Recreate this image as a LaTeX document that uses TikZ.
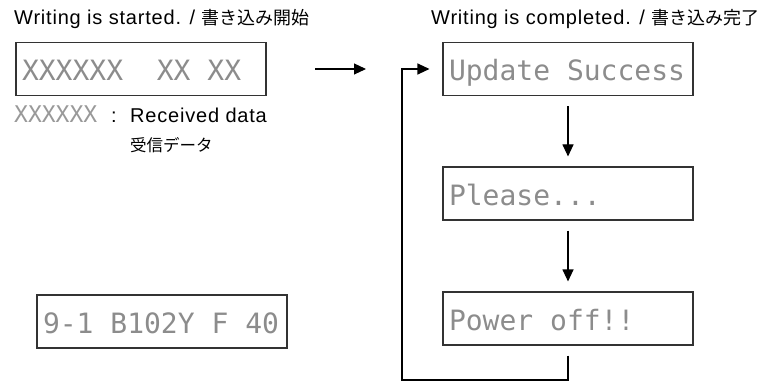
\documentclass[tikz,border=0pt]{standalone}
\usepackage{fontspec}
\setmainfont{Liberation Sans}[LetterSpace=4]
\newfontfamily\jpfont{Noto Sans CJK JP}
\newfontfamily\lcdfont{DejaVu Sans Mono}
\usetikzlibrary{arrows.meta,positioning}
\tikzset{lcd/.style={draw=black!80,line width=1.1pt,minimum width=250pt,minimum height=53pt,inner xsep=6pt,inner ysep=0pt,
    text width=238pt,text height=24pt,text depth=0pt,align=flush left,text=black!45,font=\lcdfont\fontsize{28}{30}\selectfont},
  heading/.style={anchor=base west,inner sep=0pt,font=\fontsize{20}{22}\selectfont},
  arr/.style={-{Triangle[length=12pt,width=11pt]},line width=1.1pt}}
\newcommand\jptext[1]{{\jpfont\fontsize{18}{20}\selectfont #1}}

\begin{document}
\begin{tikzpicture}[x=1pt,y=-1pt]
\useasboundingbox (0,0) rectangle (767,382);
\node[heading] (hl) at (14,25) {Writing is started. / \jptext{書き込み開始}};
\node[heading] (hr) at (431,25) {Writing is completed. / \jptext{書き込み完了}};
\node[lcd] (rx) at (141,69) {XXXXXX\ \ XX XX};
\node[lcd] (sb) at (162,321.5) {9-1 B102Y F 40};
\node[heading,text=black!40,font=\lcdfont\fontsize{23}{25}\selectfont] (key) at (14,123) {XXXXXX};
\node[heading] (colon) at (111,123) {:};
\node[heading] (rd) at (130,123) {Received data};
\node[heading,font=\jpfont\fontsize{16.5}{18}\selectfont] (rdj) at (130,151) {受信データ};
\node[lcd] (upd) at (568,69) {Update Success};
\node[lcd] (pls) at (568,193.5) {Please...};
\node[lcd] (pwr) at (568,318.5) {Power off!!};
\coordinate (go1) at (315,69); \coordinate (go2) at (366,69);
\coordinate (back) at (402,380);
\draw[arr] (go1) -- (go2);
\draw[arr,shorten <=10pt,shorten >=10pt] (upd.south) -- (pls.north);
\draw[arr,shorten <=10pt,shorten >=10pt] (pls.south) -- (pwr.north);
\draw[arr,shorten <=10pt,shorten >=13pt] (pwr.south) |- (back) |- (upd.west);
\end{tikzpicture}
\end{document}
